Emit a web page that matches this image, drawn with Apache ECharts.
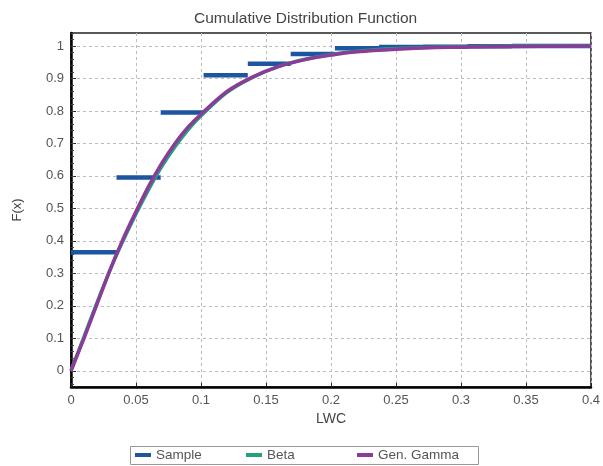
<!DOCTYPE html>
<html>
<head>
<meta charset="utf-8">
<script src="https://cdn.jsdelivr.net/npm/echarts@6/dist/echarts.min.js"></script>
<style>html,body{margin:0;padding:0;background:#fff}#c{width:603px;height:466px}</style>
</head>
<body>
<div id="c"></div>
<script>
// ---- data ----
var xTicks = [0, 0.05, 0.1, 0.15, 0.2, 0.25, 0.3, 0.35, 0.4];
var yTicks = [0, 0.1, 0.2, 0.3, 0.4, 0.5, 0.6, 0.7, 0.8, 0.9, 1];
// Sample (empirical CDF) steps: bin edges and step heights
var sampleEdges = [0, 0.035, 0.069, 0.102, 0.136, 0.169, 0.203, 0.237, 0.271, 0.305, 0.339, 0.373, 0.4];
var sampleValues = [0.365, 0.595, 0.795, 0.91, 0.945, 0.975, 0.993, 0.997, 0.998, 0.999, 1.0, 1.0];
// fitted CDFs
var curveX = [0, 0.01, 0.02, 0.03, 0.04, 0.05, 0.06, 0.07, 0.08, 0.09, 0.10, 0.12, 0.14, 0.16, 0.18, 0.20, 0.22, 0.25, 0.28, 0.32, 0.36, 0.40];
var betaY = [0, 0.105, 0.21, 0.31, 0.40, 0.483, 0.56, 0.63, 0.69, 0.742, 0.785, 0.857, 0.904, 0.937, 0.959, 0.974, 0.984, 0.992, 0.996, 0.999, 1.0, 1.0];
var gammaY = [0, 0.10, 0.205, 0.31, 0.405, 0.49, 0.57, 0.64, 0.70, 0.75, 0.79, 0.86, 0.905, 0.937, 0.958, 0.972, 0.982, 0.990, 0.995, 0.998, 0.999, 1.0];
var seriesNames = ['Sample', 'Beta', 'Gen. Gamma'];

var sampleData = [];
for (var i = 0; i < sampleValues.length; i++) {
  sampleData.push([sampleEdges[i], sampleValues[i]]);
  sampleData.push([sampleEdges[i + 1], sampleValues[i]]);
  if (i < sampleValues.length - 1) sampleData.push(['-', '-']);
}
function pairs(xs, ys) { return xs.map(function (x, i) { return [x, ys[i]]; }); }

var minorY = [];
for (var k = -2; k <= 52; k++) minorY.push(+(k * 0.02).toFixed(2));

var FONT = 'Liberation Sans, Arial, sans-serif';
var legendLefts = [135, 246, 357];
var legends = seriesNames.map(function (n, idx) {
  return {
    left: legendLefts[idx], top: 448, padding: 0,
    itemWidth: 16, itemHeight: 4, icon: 'rect', itemGap: 0,
    textStyle: { fontSize: 13.5, color: '#555', fontFamily: FONT },
    data: [n]
  };
});

var chart = echarts.init(document.getElementById('c'));
chart.setOption({
  animation: false,
  backgroundColor: '#fff',
  textStyle: { fontFamily: FONT },
  title: {
    text: 'Cumulative Distribution Function',
    left: 189, top: 6,
    textStyle: { fontSize: 15.5, fontWeight: 'normal', color: '#444', fontFamily: FONT }
  },
  graphic: [{
    type: 'rect', left: 130, top: 446, z: -1,
    shape: { width: 348, height: 18 },
    style: { fill: '#fff', stroke: '#999', lineWidth: 1 }
  }],
  grid: {
    left: 71, right: 9, top: 33, bottom: 79,
    show: true, borderColor: '#222', borderWidth: 1.5, backgroundColor: '#fff'
  },
  legend: legends,
  xAxis: {
    type: 'value', min: 0, max: 0.4,
    axisLabel: { customValues: xTicks, color: '#555', fontSize: 13, margin: 7, fontFamily: FONT },
    axisTick: { customValues: xTicks, inside: true, length: 4, lineStyle: { color: '#222' } },
    axisLine: { onZero: false, lineStyle: { color: '#000', width: 2.5 } },
    splitLine: { show: true, lineStyle: { color: '#bbb', type: [3, 3], width: 1 } },
    name: 'LWC', nameLocation: 'middle', nameGap: 22,
    nameTextStyle: { fontSize: 14, color: '#444', fontFamily: FONT }
  },
  yAxis: [{
    type: 'value', min: -0.05, max: 1.04, position: 'left',
    axisLabel: { customValues: yTicks, color: '#555', fontSize: 13, margin: 7, fontFamily: FONT },
    axisTick: { customValues: yTicks, inside: true, length: 5, lineStyle: { color: '#222' } },
    axisLine: { onZero: false, lineStyle: { color: '#000', width: 2.5 } },
    splitLine: { show: true, lineStyle: { color: '#bbb', type: [3, 3], width: 1 } },
    name: 'F(x)', nameLocation: 'middle', nameGap: 47, nameRotate: 90,
    nameTextStyle: { fontSize: 13, color: '#444', fontFamily: FONT }
  }, {
    type: 'value', min: -0.05, max: 1.04, position: 'left',
    axisLabel: { show: false },
    axisTick: { customValues: minorY, inside: true, length: 3, lineStyle: { color: '#444' } },
    axisLine: { show: false },
    splitLine: { show: false }
  }],
  series: [{
    name: seriesNames[0], type: 'line', data: sampleData, showSymbol: false, symbol: 'none',
    connectNulls: false, color: '#1d559e',
    lineStyle: { width: 4.5, color: '#1d559e' }, z: 2
  }, {
    name: seriesNames[1], type: 'line', data: pairs(curveX, betaY), smooth: 0.3, showSymbol: false, symbol: 'none',
    color: '#22a080', lineStyle: { width: 3.5, color: '#22a080' }, z: 3
  }, {
    name: seriesNames[2], type: 'line', data: pairs(curveX, gammaY), smooth: 0.3, showSymbol: false, symbol: 'none',
    color: '#8b3c98', lineStyle: { width: 3.5, color: '#8b3c98' }, z: 4
  }]
});
</script>
</body>
</html>
